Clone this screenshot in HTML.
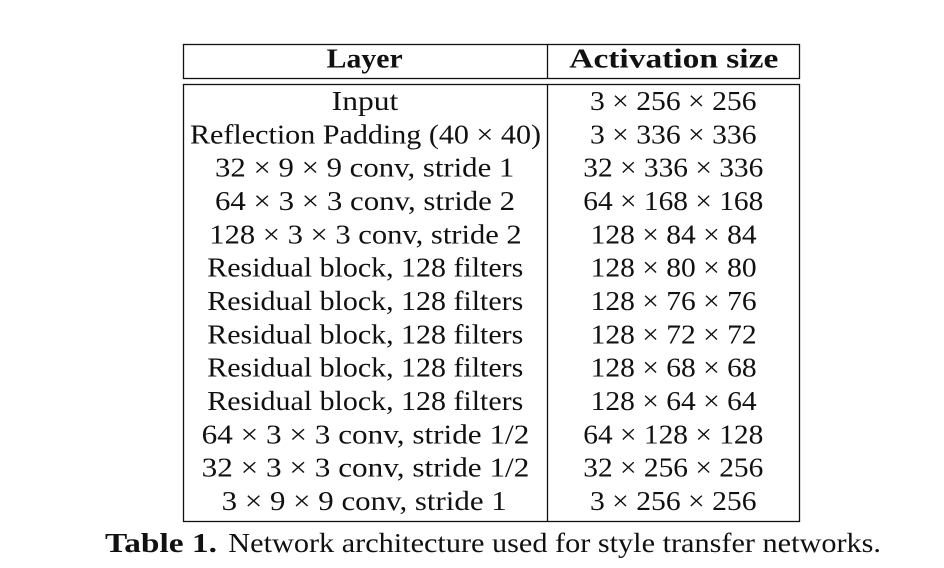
<!DOCTYPE html>
<html>
<head>
<meta charset="utf-8">
<style>
  html, body { margin: 0; padding: 0; background: #ffffff; }
  body { width: 944px; height: 568px; overflow: hidden; }
  svg { display: block; }
  text { font-family: "Liberation Serif", "DejaVu Serif", serif; fill: #111; }
  .b { font-weight: bold; }
</style>
</head>
<body>
<svg width="944" height="568" viewBox="0 0 944 568" xmlns="http://www.w3.org/2000/svg">
  <rect x="0" y="0" width="944" height="568" fill="#ffffff"/>
  <g fill="none" stroke="#111" stroke-width="1.3">
    <rect x="183.5" y="44.5" width="616" height="34"/>
    <rect x="183.5" y="84.5" width="616" height="437"/>
    <line x1="547.5" y1="44.5" x2="547.5" y2="78.5"/>
    <line x1="547.5" y1="84.5" x2="547.5" y2="521.5"/>
  </g>

  <!-- Header -->
  <text class="b" x="326.7" y="67.5" font-size="27" textLength="76" lengthAdjust="spacingAndGlyphs">Layer</text>
  <text class="b" x="569.3" y="67.5" font-size="27" textLength="209" lengthAdjust="spacingAndGlyphs">Activation size</text>

  <!-- Left column -->
  <g font-size="27">
    <text x="331.7" y="110" textLength="66.6" lengthAdjust="spacingAndGlyphs">Input</text>
    <text x="190" y="143.3" textLength="351" lengthAdjust="spacingAndGlyphs">Reflection Padding (40 × 40)</text>
    <text x="215" y="176.7" textLength="299.3" lengthAdjust="spacingAndGlyphs">32 × 9 × 9 conv, stride 1</text>
    <text x="215" y="210" textLength="300" lengthAdjust="spacingAndGlyphs">64 × 3 × 3 conv, stride 2</text>
    <text x="209.3" y="243.3" textLength="312.4" lengthAdjust="spacingAndGlyphs">128 × 3 × 3 conv, stride 2</text>
    <text x="207.3" y="276.7" textLength="316" lengthAdjust="spacingAndGlyphs">Residual block, 128 filters</text>
    <text x="207.3" y="310" textLength="316" lengthAdjust="spacingAndGlyphs">Residual block, 128 filters</text>
    <text x="207.3" y="343.3" textLength="316" lengthAdjust="spacingAndGlyphs">Residual block, 128 filters</text>
    <text x="207.3" y="376.7" textLength="316" lengthAdjust="spacingAndGlyphs">Residual block, 128 filters</text>
    <text x="207.3" y="410" textLength="316" lengthAdjust="spacingAndGlyphs">Residual block, 128 filters</text>
    <text x="201.7" y="443.3" textLength="327.6" lengthAdjust="spacingAndGlyphs">64 × 3 × 3 conv, stride 1/2</text>
    <text x="201.7" y="476.7" textLength="327.6" lengthAdjust="spacingAndGlyphs">32 × 3 × 3 conv, stride 1/2</text>
    <text x="221.7" y="510" textLength="285" lengthAdjust="spacingAndGlyphs">3 × 9 × 9 conv, stride 1</text>
  </g>

  <!-- Right column -->
  <g font-size="27">
    <text x="590" y="110" textLength="166.5" lengthAdjust="spacingAndGlyphs">3 × 256 × 256</text>
    <text x="590" y="143.3" textLength="166.5" lengthAdjust="spacingAndGlyphs">3 × 336 × 336</text>
    <text x="583.3" y="176.7" textLength="180" lengthAdjust="spacingAndGlyphs">32 × 336 × 336</text>
    <text x="583.3" y="210" textLength="180" lengthAdjust="spacingAndGlyphs">64 × 168 × 168</text>
    <text x="590.7" y="243.3" textLength="166" lengthAdjust="spacingAndGlyphs">128 × 84 × 84</text>
    <text x="590.7" y="276.7" textLength="166" lengthAdjust="spacingAndGlyphs">128 × 80 × 80</text>
    <text x="590.7" y="310" textLength="166" lengthAdjust="spacingAndGlyphs">128 × 76 × 76</text>
    <text x="590.7" y="343.3" textLength="166" lengthAdjust="spacingAndGlyphs">128 × 72 × 72</text>
    <text x="590.7" y="376.7" textLength="166" lengthAdjust="spacingAndGlyphs">128 × 68 × 68</text>
    <text x="590.7" y="410" textLength="166" lengthAdjust="spacingAndGlyphs">128 × 64 × 64</text>
    <text x="583.3" y="443.3" textLength="180" lengthAdjust="spacingAndGlyphs">64 × 128 × 128</text>
    <text x="583.3" y="476.7" textLength="180" lengthAdjust="spacingAndGlyphs">32 × 256 × 256</text>
    <text x="590" y="510" textLength="166.5" lengthAdjust="spacingAndGlyphs">3 × 256 × 256</text>
  </g>

  <!-- Caption -->
  <text class="b" x="105" y="552" font-size="27" textLength="112" lengthAdjust="spacingAndGlyphs">Table 1.</text>
  <text x="228.3" y="552" font-size="27" textLength="652.7" lengthAdjust="spacingAndGlyphs">Network architecture used for style transfer networks.</text>
</svg>
</body>
</html>
